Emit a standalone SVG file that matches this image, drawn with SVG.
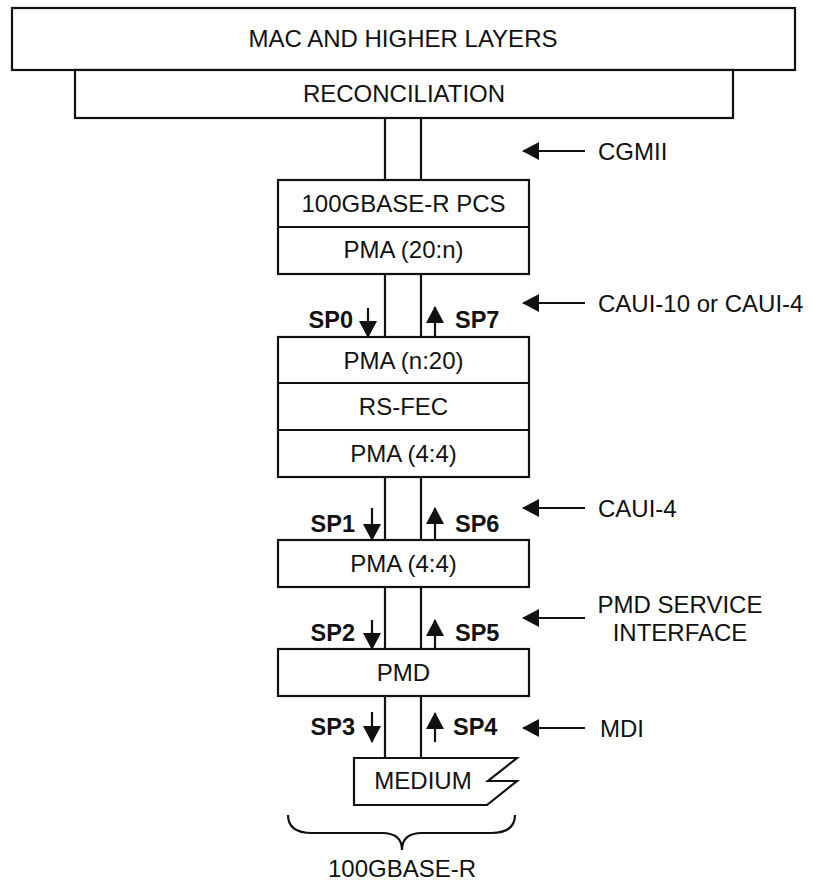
<svg xmlns="http://www.w3.org/2000/svg" width="815" height="881" viewBox="0 0 815 881">
<style>
.box{fill:#fff;stroke:#111;stroke-width:2.2}
.ln{fill:none;stroke:#111;stroke-width:2.2}
.t{font-family:"Liberation Sans",Arial,sans-serif;font-size:24px;fill:#111;text-anchor:middle}
.tl{font-family:"Liberation Sans",Arial,sans-serif;font-size:24px;fill:#111}
.sp{font-family:"Liberation Sans",Arial,sans-serif;font-size:23.5px;font-weight:bold;fill:#111}
.ar{fill:none;stroke:#111;stroke-width:2.2}
</style>
<defs>
<marker id="ah" markerUnits="userSpaceOnUse" markerWidth="17" markerHeight="18" refX="16" refY="9" orient="auto">
<path d="M0,0 L17,9 L0,18 z" fill="#111"/>
</marker>
</defs>
<rect width="815" height="881" fill="#fff"/>

<g id="connectors">
<path class="ln" d="M385,118 V180 M421,118 V180"/>
<path class="ln" d="M385,274 V337 M421,274 V337"/>
<path class="ln" d="M385,477 V540 M421,477 V540"/>
<path class="ln" d="M385,587 V649 M421,587 V649"/>
<path class="ln" d="M385,696 V758 M421,696 V758"/>
<line class="ar" x1="368" y1="308" x2="368" y2="337" marker-end="url(#ah)"/>
<line class="ar" x1="435" y1="337" x2="435" y2="307" marker-end="url(#ah)"/>
<line class="ar" x1="372" y1="508" x2="372" y2="540" marker-end="url(#ah)"/>
<line class="ar" x1="435" y1="540" x2="435" y2="508" marker-end="url(#ah)"/>
<line class="ar" x1="372" y1="620" x2="372" y2="649" marker-end="url(#ah)"/>
<line class="ar" x1="435" y1="649" x2="435" y2="620" marker-end="url(#ah)"/>
<line class="ar" x1="372" y1="712" x2="372" y2="742" marker-end="url(#ah)"/>
<line class="ar" x1="435" y1="742" x2="435" y2="713" marker-end="url(#ah)"/>
<line class="ar" x1="585" y1="151" x2="523" y2="151" marker-end="url(#ah)"/>
<line class="ar" x1="585" y1="303" x2="523" y2="303" marker-end="url(#ah)"/>
<line class="ar" x1="585" y1="508" x2="523" y2="508" marker-end="url(#ah)"/>
<line class="ar" x1="585" y1="618" x2="523" y2="618" marker-end="url(#ah)"/>
<line class="ar" x1="585" y1="728" x2="523" y2="728" marker-end="url(#ah)"/>
</g>

<g id="mac">
<rect class="box" x="12" y="8" width="783" height="62"/>
<text class="t" x="403" y="47">MAC AND HIGHER LAYERS</text>
</g>
<g id="reconciliation">
<rect class="box" x="75" y="70" width="658" height="48"/>
<text class="t" x="404" y="102">RECONCILIATION</text>
</g>
<g id="pcs">
<rect class="box" x="278" y="180" width="251" height="94"/>
<line class="ln" x1="278" y1="227" x2="529" y2="227"/>
<text class="t" x="403.5" y="212">100GBASE-R PCS</text>
<text class="t" x="403.5" y="258">PMA (20:n)</text>
</g>
<g id="fec">
<rect class="box" x="278" y="337" width="251" height="140"/>
<line class="ln" x1="278" y1="383" x2="529" y2="383"/>
<line class="ln" x1="278" y1="430" x2="529" y2="430"/>
<text class="t" x="403.5" y="369">PMA (n:20)</text>
<text class="t" x="403.5" y="415">RS-FEC</text>
<text class="t" x="403.5" y="462">PMA (4:4)</text>
</g>
<g id="pma44">
<rect class="box" x="278" y="540" width="251" height="47"/>
<text class="t" x="403.5" y="572">PMA (4:4)</text>
</g>
<g id="pmd">
<rect class="box" x="278" y="649" width="251" height="47"/>
<text class="t" x="403.5" y="681">PMD</text>
</g>
<g id="medium">
<path class="box" d="M354,758 H517 L488,781 H517 L487,805 H354 Z"/>
<text class="t" x="423" y="789">MEDIUM</text>
</g>

<g id="sp-labels">
<text class="sp" x="353" y="328" text-anchor="end">SP0</text>
<text class="sp" x="455" y="328">SP7</text>
<text class="sp" x="355" y="532" text-anchor="end">SP1</text>
<text class="sp" x="455" y="532">SP6</text>
<text class="sp" x="355" y="641" text-anchor="end">SP2</text>
<text class="sp" x="455" y="641">SP5</text>
<text class="sp" x="355" y="735" text-anchor="end">SP3</text>
<text class="sp" x="453" y="735">SP4</text>
</g>

<g id="interface-labels">
<text class="tl" x="598" y="160">CGMII</text>
<text class="tl" x="598" y="312">CAUI-10 or CAUI-4</text>
<text class="tl" x="598" y="517">CAUI-4</text>
<text class="t" x="680" y="613">PMD SERVICE</text>
<text class="t" x="680" y="641">INTERFACE</text>
<text class="tl" x="600" y="737">MDI</text>
</g>

<g id="brace">
<path class="ln" stroke-width="1.8" d="M288,815 Q288,833 312,833 H382 Q402,833 402,850 Q402,833 422,833 H491 Q515,833 515,815"/>
<text class="t" x="402" y="877">100GBASE-R</text>
</g>
</svg>
